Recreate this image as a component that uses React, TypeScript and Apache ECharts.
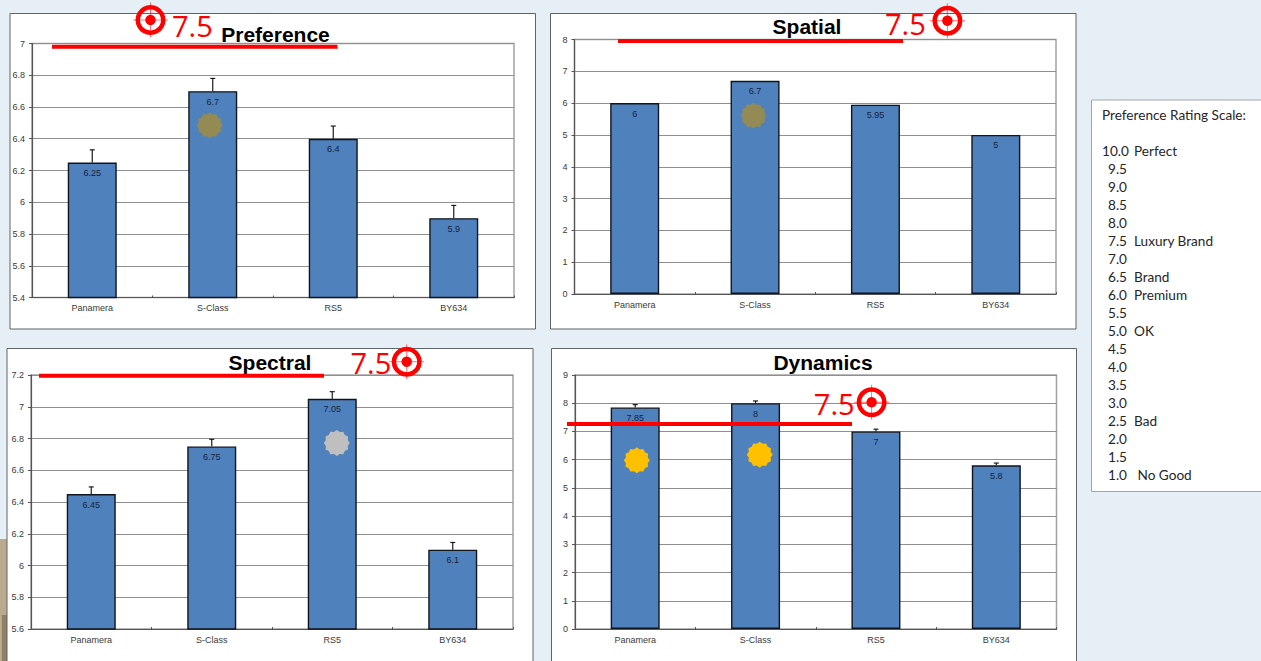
import React, { useEffect, useRef } from "react";
import * as echarts from "echarts";

const categories = ["Panamera", "S-Class", "RS5", "BY634"];

const preferenceValues = [6.25, 6.7, 6.4, 5.9];
const preferenceHighs = [6.33, 6.78, 6.48, 5.98];
const spatialValues = [6, 6.7, 5.95, 5];
const spectralValues = [6.45, 6.75, 7.05, 6.1];
const spectralHighs = [6.495, 6.795, 7.095, 6.145];
const dynamicsValues = [7.85, 8, 7, 5.8];
const dynamicsHighs = [7.95, 8.08, 7.08, 5.88];

const scaleTitle = "Preference Rating Scale:";
const scaleNumbers = ["10.0", "9.5", "9.0", "8.5", "8.0", "7.5", "7.0", "6.5", "6.0", "5.5", "5.0", "4.5", "4.0", "3.5", "3.0", "2.5", "2.0", "1.5", "1.0"];
const scaleLabels = ["Perfect", "", "", "", "", "Luxury Brand", "", "Brand", "Premium", "", "OK", "", "", "", "", "Bad", "", "", "No Good"];
const targetLabel = "7.5";

const SANS = '"Liberation Sans", Arial, sans-serif';
const NOTE = '"Open Sans", sans-serif';
const RED = "#ff0000";

const panels = [
  { title: "Preference", values: preferenceValues, highs: preferenceHighs, min: 5.4, max: 7, interval: 0.2,
    box: [10, 13.5, 525.5, 315.5], plot: [32, 43.5, 482, 254], titlePos: [275.5, 34],
    line: [52, 337.5, 46.7], note: [172, 25.5], target: [150.5, 20] },
  { title: "Spatial", values: spatialValues, highs: null, min: 0, max: 8, interval: 1,
    box: [550.5, 13.5, 525.5, 315.5], plot: [574.5, 39.5, 481.5, 254.5], titlePos: [807, 26.5],
    line: [618, 903, 41], note: [885, 23], target: [947.4, 20.7] },
  { title: "Spectral", values: spectralValues, highs: spectralHighs, min: 5.6, max: 7.2, interval: 0.2,
    box: [7, 348.5, 526, 330], plot: [31, 375, 482, 254], titlePos: [270, 362.2],
    line: [39, 324, 375.7], note: [350.5, 362], target: [406.7, 361.7] },
  { title: "Dynamics", values: dynamicsValues, highs: dynamicsHighs, min: 0, max: 9, interval: 1,
    box: [551.5, 348.5, 525, 330], plot: [575, 375, 481.5, 254], titlePos: [823, 362.5],
    line: [567, 852, 424], note: [813.8, 403.5], target: [871.6, 402.3] },
];

const badges = [
  { pos: [209.7, 125.3], color: "#948a54" },
  { pos: [753.5, 115.7], color: "#948a54" },
  { pos: [336.8, 443], color: "#bfbfbf" },
  { pos: [636.8, 460.3], color: "#ffc000" },
  { pos: [759.7, 454.7], color: "#ffc000" },
];

function burstPoints(outer: number, inner: number, spikes: number) {
  const pts: number[][] = [];
  for (let i = 0; i < spikes * 2; i++) {
    const r = i % 2 === 0 ? outer : inner;
    const a = (Math.PI * i) / spikes - Math.PI / 2;
    pts.push([r * Math.cos(a), r * Math.sin(a)]);
  }
  return pts;
}

function targetGroup(cx: number, cy: number) {
  const stroke = { stroke: RED, lineWidth: 0.9, opacity: 0.6 };
  return {
    type: "group", x: cx, y: cy, z: 100,
    children: [
      { type: "line", z: 100, shape: { x1: -17.5, y1: 0, x2: 17.5, y2: 0 }, style: stroke },
      { type: "line", z: 100, shape: { x1: 0, y1: -17.5, x2: 0, y2: 17.5 }, style: stroke },
      { type: "ring", z: 101, shape: { cx: 0, cy: 0, r: 15, r0: 10.5 }, style: { fill: RED } },
      { type: "circle", z: 101, shape: { cx: 0, cy: 0, r: 5.2 }, style: { fill: RED } },
    ],
  };
}

function buildOption() {
  const graphic: any[] = [];
  graphic.push({ type: "rect", z: -5, shape: { x: 0, y: 539, width: 7, height: 122 }, style: { fill: "#b9aa8c" } });
  graphic.push({ type: "rect", z: -5, shape: { x: 2, y: 615, width: 5, height: 46 }, style: { fill: "#8f7f63" } });

  panels.forEach((p) => {
    graphic.push({ type: "rect", z: -4, shape: { x: p.box[0], y: p.box[1], width: p.box[2], height: p.box[3] },
      style: { fill: "#ffffff", stroke: "#5f6468", lineWidth: 1 } });
    graphic.push({ type: "text", z: 90, x: p.titlePos[0], y: p.titlePos[1],
      style: { text: p.title, fill: "#000000", font: `bold 21px ${SANS}`, align: "center", verticalAlign: "middle" } });
    graphic.push({ type: "line", z: 100, shape: { x1: p.line[0], y1: p.line[2], x2: p.line[1], y2: p.line[2] },
      style: { stroke: RED, lineWidth: 4 } });
    graphic.push({ type: "text", z: 100, x: p.note[0], y: p.note[1],
      style: { text: targetLabel, fill: RED, font: `29px ${NOTE}`, align: "left", verticalAlign: "middle" } });
    graphic.push(targetGroup(p.target[0], p.target[1]));
  });

  badges.forEach((b) => {
    graphic.push({ type: "polygon", z: 95, x: b.pos[0], y: b.pos[1],
      shape: { points: burstPoints(13, 11.3, 12) }, style: { fill: b.color } });
  });

  graphic.push({ type: "rect", z: -4, shape: { x: 1091.5, y: 100, width: 180, height: 391.5 },
    style: { fill: "#ffffff", stroke: "#a6a6a6", lineWidth: 1 } });
  const scaleFont = `13.6px Lato, "Open Sans", sans-serif`;
  graphic.push({ type: "text", z: 10, x: 1102, y: 115,
    style: { text: scaleTitle, fill: "#262626", font: scaleFont, verticalAlign: "middle" } });
  scaleNumbers.forEach((n, i) => {
    const y = 151 + i * 18;
    graphic.push({ type: "text", z: 10, x: n.length > 3 ? 1102 : 1108, y,
      style: { text: n, fill: "#262626", font: scaleFont, verticalAlign: "middle" } });
    if (scaleLabels[i]) {
      graphic.push({ type: "text", z: 10, x: scaleLabels[i] === "No Good" ? 1137.5 : 1134, y,
        style: { text: scaleLabels[i], fill: "#262626", font: scaleFont, verticalAlign: "middle" } });
    }
  });

  const grid = panels.map((p) => ({
    left: p.plot[0], top: p.plot[1], width: p.plot[2], height: p.plot[3],
    show: true, backgroundColor: "transparent", borderColor: "#a3a3a3", borderWidth: 1.5,
  }));
  const xAxis = panels.map((_, i) => ({
    type: "category", gridIndex: i, data: categories,
    axisLine: { lineStyle: { color: "#555555", width: 1.2 } },
    axisTick: { show: true, inside: true, length: 2, lineStyle: { color: "#555555" } },
    axisLabel: { color: "#3a3a3a", fontFamily: SANS, fontSize: 9, margin: 6 },
  }));
  const yAxis = panels.map((p, i) => ({
    type: "value", gridIndex: i, min: p.min, max: p.max, interval: p.interval,
    axisLine: { show: true, lineStyle: { color: "#555555", width: 1.2 } },
    axisTick: { show: true, length: 3, lineStyle: { color: "#555555" } },
    axisLabel: { color: "#3a3a3a", fontFamily: SANS, fontSize: 9, margin: 7 },
    splitLine: { show: true, lineStyle: { color: "#8f8f8f", width: 1.2 } },
  }));

  const series: any[] = [];
  panels.forEach((p, i) => {
    series.push({
      type: "bar", xAxisIndex: i, yAxisIndex: i, data: p.values, barWidth: 49,
      itemStyle: { color: "#4f81bd", borderColor: "#10151c", borderWidth: 1.4 },
      label: { show: true, position: "insideTop", distance: 6, color: "#14233a", fontFamily: SANS, fontSize: 9 },
    });
    if (p.highs) {
      series.push({
        type: "custom", xAxisIndex: i, yAxisIndex: i, z: 3,
        data: p.values.map((v, k) => [k, v, p.highs![k]]),
        encode: { x: 0, y: [1, 2] },
        renderItem: (_: any, api: any) => {
          const lo = api.coord([api.value(0), api.value(1)]);
          const hi = api.coord([api.value(0), api.value(2)]);
          const style = { stroke: "#1a1a1a", lineWidth: 1.2, fill: "none" };
          return {
            type: "group",
            children: [
              { type: "line", shape: { x1: lo[0], y1: lo[1], x2: hi[0], y2: hi[1] }, style },
              { type: "line", shape: { x1: hi[0] - 2.5, y1: hi[1], x2: hi[0] + 2.5, y2: hi[1] }, style },
            ],
          };
        },
      });
    }
  });

  return { animation: false, backgroundColor: "#e6eff5", grid, xAxis, yAxis, series, graphic };
}

export default function App() {
  const ref = useRef<HTMLDivElement>(null);
  useEffect(() => {
    const chart = echarts.init(ref.current!, undefined, { renderer: "svg" });
    chart.setOption(buildOption() as any);
    return () => chart.dispose();
  }, []);
  return <div ref={ref} style={{ position: "fixed", left: 0, top: 0, width: 1261, height: 661 }} />;
}
